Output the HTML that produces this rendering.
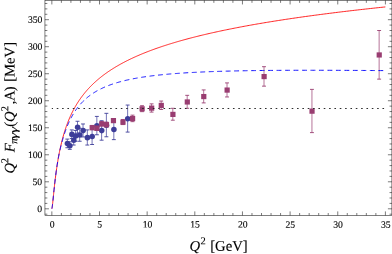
<!DOCTYPE html><html><head><meta charset="utf-8"><style>.ls{font-family:"Liberation Serif",serif;text-rendering:geometricPrecision}html,body{margin:0;padding:0;background:#fff;width:392px;height:254px;overflow:hidden}</style></head><body><svg width="392" height="254" viewBox="0 0 392 254" style="position:absolute;left:0;top:0;will-change:transform">
<rect x="0" y="0" width="392" height="254" fill="#fff"/>
<path d="M67.31,139.10 V147.75" stroke="#3D3D99" stroke-width="0.72" fill="none"/><path d="M65.36,139.10 H69.26 M65.36,147.75 H69.26" stroke="#3D3D99" stroke-width="0.9" fill="none"/>
<path d="M69.79,141.80 V149.37" stroke="#3D3D99" stroke-width="0.72" fill="none"/><path d="M67.84,141.80 H71.74 M67.84,149.37 H71.74" stroke="#3D3D99" stroke-width="0.9" fill="none"/>
<path d="M71.79,129.92 V138.56" stroke="#3D3D99" stroke-width="0.72" fill="none"/><path d="M69.84,129.92 H73.74 M69.84,138.56 H73.74" stroke="#3D3D99" stroke-width="0.9" fill="none"/>
<path d="M73.69,135.32 V145.04" stroke="#3D3D99" stroke-width="0.72" fill="none"/><path d="M71.74,135.32 H75.64 M71.74,145.04 H75.64" stroke="#3D3D99" stroke-width="0.9" fill="none"/>
<path d="M75.60,130.46 V141.26" stroke="#3D3D99" stroke-width="0.72" fill="none"/><path d="M73.65,130.46 H77.55 M73.65,141.26 H77.55" stroke="#3D3D99" stroke-width="0.9" fill="none"/>
<path d="M77.51,121.27 V133.16" stroke="#3D3D99" stroke-width="0.72" fill="none"/><path d="M75.56,121.27 H79.46 M75.56,133.16 H79.46" stroke="#3D3D99" stroke-width="0.9" fill="none"/>
<path d="M79.70,128.30 V141.26" stroke="#3D3D99" stroke-width="0.72" fill="none"/><path d="M77.75,128.30 H81.65 M77.75,141.26 H81.65" stroke="#3D3D99" stroke-width="0.9" fill="none"/>
<path d="M83.03,123.97 V136.94" stroke="#3D3D99" stroke-width="0.72" fill="none"/><path d="M81.08,123.97 H84.98 M81.08,136.94 H84.98" stroke="#3D3D99" stroke-width="0.9" fill="none"/>
<path d="M87.32,129.92 V145.04" stroke="#3D3D99" stroke-width="0.72" fill="none"/><path d="M85.37,129.92 H89.27 M85.37,145.04 H89.27" stroke="#3D3D99" stroke-width="0.9" fill="none"/>
<path d="M92.09,128.30 V144.50" stroke="#3D3D99" stroke-width="0.72" fill="none"/><path d="M90.14,128.30 H94.04 M90.14,144.50 H94.04" stroke="#3D3D99" stroke-width="0.9" fill="none"/>
<path d="M96.85,116.41 V134.78" stroke="#3D3D99" stroke-width="0.72" fill="none"/><path d="M94.90,116.41 H98.80 M94.90,134.78 H98.80" stroke="#3D3D99" stroke-width="0.9" fill="none"/>
<path d="M101.62,120.73 V140.18" stroke="#3D3D99" stroke-width="0.72" fill="none"/><path d="M99.67,120.73 H103.57 M99.67,140.18 H103.57" stroke="#3D3D99" stroke-width="0.9" fill="none"/>
<path d="M106.38,113.33 V136.78" stroke="#3D3D99" stroke-width="0.72" fill="none"/><path d="M104.43,113.33 H108.33 M104.43,136.78 H108.33" stroke="#3D3D99" stroke-width="0.9" fill="none"/>
<path d="M113.82,119.11 V139.64" stroke="#3D3D99" stroke-width="0.72" fill="none"/><path d="M111.87,119.11 H115.77 M111.87,139.64 H115.77" stroke="#3D3D99" stroke-width="0.9" fill="none"/>
<path d="M127.63,105.06 V132.08" stroke="#3D3D99" stroke-width="0.72" fill="none"/><path d="M125.68,105.06 H129.58 M125.68,132.08 H129.58" stroke="#3D3D99" stroke-width="0.9" fill="none"/>
<circle cx="67.41" cy="143.57" r="2.78" fill="#3D3D99"/>
<circle cx="69.89" cy="145.73" r="2.78" fill="#3D3D99"/>
<circle cx="71.89" cy="134.39" r="2.78" fill="#3D3D99"/>
<circle cx="73.79" cy="140.33" r="2.78" fill="#3D3D99"/>
<circle cx="75.70" cy="136.01" r="2.78" fill="#3D3D99"/>
<circle cx="77.61" cy="127.36" r="2.78" fill="#3D3D99"/>
<circle cx="79.80" cy="134.93" r="2.78" fill="#3D3D99"/>
<circle cx="83.13" cy="130.61" r="2.78" fill="#3D3D99"/>
<circle cx="87.42" cy="137.63" r="2.78" fill="#3D3D99"/>
<circle cx="92.19" cy="136.55" r="2.78" fill="#3D3D99"/>
<circle cx="96.95" cy="125.74" r="2.78" fill="#3D3D99"/>
<circle cx="101.72" cy="130.61" r="2.78" fill="#3D3D99"/>
<circle cx="106.48" cy="125.20" r="2.78" fill="#3D3D99"/>
<circle cx="113.92" cy="129.53" r="2.78" fill="#3D3D99"/>
<circle cx="127.73" cy="118.72" r="2.78" fill="#3D3D99"/>
<path d="M92.09,125.43 V129.65" stroke="#993D71" stroke-width="0.72" fill="none"/><path d="M90.14,125.43 H94.04 M90.14,129.65 H94.04" stroke="#993D71" stroke-width="0.9" fill="none"/>
<path d="M96.85,126.03 V130.46" stroke="#993D71" stroke-width="0.72" fill="none"/><path d="M94.90,126.03 H98.80 M94.90,130.46 H98.80" stroke="#993D71" stroke-width="0.9" fill="none"/>
<path d="M101.62,121.65 V125.86" stroke="#993D71" stroke-width="0.72" fill="none"/><path d="M99.67,121.65 H103.57 M99.67,125.86 H103.57" stroke="#993D71" stroke-width="0.9" fill="none"/>
<path d="M106.38,122.08 V126.94" stroke="#993D71" stroke-width="0.72" fill="none"/><path d="M104.43,122.08 H108.33 M104.43,126.94 H108.33" stroke="#993D71" stroke-width="0.9" fill="none"/>
<path d="M113.34,118.52 V122.41" stroke="#993D71" stroke-width="0.72" fill="none"/><path d="M111.39,118.52 H115.29 M111.39,122.41 H115.29" stroke="#993D71" stroke-width="0.9" fill="none"/>
<path d="M122.87,119.49 V124.57" stroke="#993D71" stroke-width="0.72" fill="none"/><path d="M120.92,119.49 H124.82 M120.92,124.57 H124.82" stroke="#993D71" stroke-width="0.9" fill="none"/>
<path d="M132.49,115.17 V121.65" stroke="#993D71" stroke-width="0.72" fill="none"/><path d="M130.54,115.17 H134.44 M130.54,121.65 H134.44" stroke="#993D71" stroke-width="0.9" fill="none"/>
<path d="M142.02,105.71 V111.65" stroke="#993D71" stroke-width="0.72" fill="none"/><path d="M140.07,105.71 H143.97 M140.07,111.65 H143.97" stroke="#993D71" stroke-width="0.9" fill="none"/>
<path d="M151.55,103.87 V112.09" stroke="#993D71" stroke-width="0.72" fill="none"/><path d="M149.60,103.87 H153.50 M149.60,112.09 H153.50" stroke="#993D71" stroke-width="0.9" fill="none"/>
<path d="M161.18,101.06 V109.49" stroke="#993D71" stroke-width="0.72" fill="none"/><path d="M159.23,101.06 H163.13 M159.23,109.49 H163.13" stroke="#993D71" stroke-width="0.9" fill="none"/>
<path d="M172.81,108.30 V120.19" stroke="#993D71" stroke-width="0.72" fill="none"/><path d="M170.86,108.30 H174.76 M170.86,120.19 H174.76" stroke="#993D71" stroke-width="0.9" fill="none"/>
<path d="M187.20,95.34 V108.30" stroke="#993D71" stroke-width="0.72" fill="none"/><path d="M185.25,95.34 H189.15 M185.25,108.30 H189.15" stroke="#993D71" stroke-width="0.9" fill="none"/>
<path d="M203.68,89.93 V102.90" stroke="#993D71" stroke-width="0.72" fill="none"/><path d="M201.73,89.93 H205.63 M201.73,102.90 H205.63" stroke="#993D71" stroke-width="0.9" fill="none"/>
<path d="M227.03,82.91 V96.96" stroke="#993D71" stroke-width="0.72" fill="none"/><path d="M225.08,82.91 H228.98 M225.08,96.96 H228.98" stroke="#993D71" stroke-width="0.9" fill="none"/>
<path d="M264.01,66.70 V86.15" stroke="#993D71" stroke-width="0.72" fill="none"/><path d="M262.06,66.70 H265.96 M262.06,86.15 H265.96" stroke="#993D71" stroke-width="0.9" fill="none"/>
<path d="M311.94,89.39 V132.62" stroke="#993D71" stroke-width="0.72" fill="none"/><path d="M309.99,89.39 H313.89 M309.99,132.62 H313.89" stroke="#993D71" stroke-width="0.9" fill="none"/>
<path d="M379.13,30.50 V79.13" stroke="#993D71" stroke-width="0.72" fill="none"/><path d="M377.18,30.50 H381.08 M377.18,79.13 H381.08" stroke="#993D71" stroke-width="0.9" fill="none"/>
<rect x="89.59" y="125.09" width="5.20" height="5.20" fill="#993D71"/>
<rect x="94.35" y="125.79" width="5.20" height="5.20" fill="#993D71"/>
<rect x="99.12" y="121.31" width="5.20" height="5.20" fill="#993D71"/>
<rect x="103.88" y="122.06" width="5.20" height="5.20" fill="#993D71"/>
<rect x="110.84" y="118.01" width="5.20" height="5.20" fill="#993D71"/>
<rect x="120.37" y="119.58" width="5.20" height="5.20" fill="#993D71"/>
<rect x="129.99" y="115.96" width="5.20" height="5.20" fill="#993D71"/>
<rect x="139.52" y="106.23" width="5.20" height="5.20" fill="#993D71"/>
<rect x="149.05" y="105.53" width="5.20" height="5.20" fill="#993D71"/>
<rect x="158.68" y="102.83" width="5.20" height="5.20" fill="#993D71"/>
<rect x="170.31" y="111.80" width="5.20" height="5.20" fill="#993D71"/>
<rect x="184.70" y="99.37" width="5.20" height="5.20" fill="#993D71"/>
<rect x="201.18" y="93.97" width="5.20" height="5.20" fill="#993D71"/>
<rect x="224.53" y="87.48" width="5.20" height="5.20" fill="#993D71"/>
<rect x="261.51" y="73.98" width="5.20" height="5.20" fill="#993D71"/>
<rect x="309.44" y="108.56" width="5.20" height="5.20" fill="#993D71"/>
<rect x="376.63" y="52.36" width="5.20" height="5.20" fill="#993D71"/>
<path d="M51.80,208.75 L51.80,208.75 L51.81,208.75 L51.82,208.75 L51.83,208.73 L51.85,208.71 L51.88,208.68 L51.90,208.62 L51.93,208.53 L51.97,208.41 L52.01,208.25 L52.05,208.04 L52.10,207.79 L52.15,207.48 L52.21,207.11 L52.27,206.68 L52.34,206.19 L52.41,205.64 L52.48,205.02 L52.56,204.34 L52.64,203.60 L52.72,202.80 L52.81,201.94 L52.91,201.03 L53.01,200.06 L53.11,199.04 L53.22,197.98 L53.33,196.87 L53.44,195.72 L53.56,194.53 L53.69,193.31 L53.81,192.06 L53.95,190.78 L54.08,189.48 L54.22,188.15 L54.37,186.81 L54.52,185.45 L54.67,184.07 L54.83,182.69 L54.99,181.29 L55.15,179.89 L55.32,178.49 L55.50,177.08 L55.67,175.67 L55.86,174.26 L56.04,172.85 L56.23,171.44 L56.43,170.04 L56.63,168.64 L56.83,167.25 L57.04,165.87 L57.25,164.50 L57.47,163.13 L57.69,161.77 L57.91,160.42 L58.14,159.09 L58.37,157.76 L58.61,156.45 L58.85,155.14 L59.09,153.85 L59.34,152.57 L59.60,151.31 L59.85,150.05 L60.12,148.81 L60.38,147.58 L60.65,146.36 L60.93,145.16 L61.21,143.97 L61.49,142.79 L61.78,141.63 L62.07,140.47 L62.36,139.33 L62.66,138.21 L62.97,137.09 L63.27,135.99 L63.59,134.90 L63.90,133.82 L64.22,132.76 L64.55,131.71 L64.88,130.67 L65.21,129.64 L65.55,128.62 L65.89,127.61 L66.23,126.62 L66.58,125.63 L66.94,124.66 L67.30,123.70 L67.66,122.75 L68.02,121.81 L68.40,120.88 L68.77,119.96 L69.15,119.05 L69.53,118.15 L69.92,117.26 L70.31,116.38 L70.71,115.51 L71.11,114.65 L71.51,113.80 L71.92,112.95 L72.33,112.12 L72.75,111.29 L73.17,110.48 L73.60,109.67 L74.03,108.87 L74.46,108.08 L74.90,107.30 L75.34,106.52 L75.79,105.75 L76.24,105.00 L76.69,104.24 L77.15,103.50 L77.61,102.76 L78.08,102.03 L78.55,101.31 L79.03,100.59 L79.51,99.89 L79.99,99.18 L80.48,98.49 L80.97,97.80 L81.47,97.12 L81.97,96.44 L82.48,95.77 L82.98,95.11 L83.50,94.45 L84.02,93.80 L84.54,93.16 L85.06,92.52 L85.59,91.88 L86.13,91.26 L86.67,90.63 L87.21,90.02 L87.75,89.40 L88.31,88.80 L88.86,88.20 L89.42,87.60 L89.98,87.01 L90.55,86.42 L91.12,85.84 L91.70,85.27 L92.28,84.69 L92.86,84.13 L93.45,83.56 L94.05,83.01 L94.64,82.45 L95.25,81.90 L95.85,81.36 L96.46,80.82 L97.07,80.28 L97.69,79.75 L98.31,79.22 L98.94,78.70 L99.57,78.18 L100.21,77.66 L100.85,77.15 L101.49,76.64 L102.14,76.14 L102.79,75.64 L103.44,75.14 L104.10,74.65 L104.77,74.16 L105.44,73.67 L106.11,73.19 L106.79,72.71 L107.47,72.24 L108.15,71.76 L108.84,71.29 L109.53,70.83 L110.23,70.37 L110.93,69.91 L111.64,69.45 L112.35,69.00 L113.06,68.55 L113.78,68.10 L114.51,67.66 L115.23,67.21 L115.96,66.78 L116.70,66.34 L117.44,65.91 L118.18,65.48 L118.93,65.05 L119.68,64.63 L120.44,64.20 L121.20,63.79 L121.96,63.37 L122.73,62.96 L123.51,62.54 L124.28,62.14 L125.07,61.73 L125.85,61.33 L126.64,60.92 L127.43,60.53 L128.23,60.13 L129.04,59.74 L129.84,59.34 L130.65,58.95 L131.47,58.57 L132.29,58.18 L133.11,57.80 L133.94,57.42 L134.77,57.04 L135.61,56.67 L136.45,56.29 L137.29,55.92 L138.14,55.55 L138.99,55.18 L139.85,54.82 L140.71,54.45 L141.58,54.09 L142.44,53.73 L143.32,53.37 L144.20,53.02 L145.08,52.66 L145.96,52.31 L146.85,51.96 L147.75,51.61 L148.65,51.27 L149.55,50.92 L150.46,50.58 L151.37,50.24 L152.29,49.90 L153.21,49.56 L154.13,49.23 L155.06,48.89 L155.99,48.56 L156.93,48.23 L157.87,47.90 L158.81,47.58 L159.76,47.25 L160.71,46.93 L161.67,46.60 L162.63,46.28 L163.60,45.96 L164.57,45.65 L165.54,45.33 L166.52,45.02 L167.50,44.70 L168.49,44.39 L169.48,44.08 L170.48,43.77 L171.48,43.47 L172.48,43.16 L173.49,42.86 L174.50,42.55 L175.52,42.25 L176.54,41.95 L177.56,41.65 L178.59,41.36 L179.62,41.06 L180.66,40.76 L181.70,40.47 L182.75,40.18 L183.80,39.89 L184.85,39.60 L185.91,39.31 L186.97,39.02 L188.04,38.74 L189.11,38.45 L190.18,38.17 L191.26,37.89 L192.34,37.61 L193.43,37.33 L194.52,37.05 L195.62,36.77 L196.72,36.50 L197.82,36.22 L198.93,35.95 L200.04,35.68 L201.16,35.41 L202.28,35.14 L203.41,34.87 L204.54,34.60 L205.67,34.33 L206.81,34.07 L207.95,33.80 L209.10,33.54 L210.25,33.28 L211.40,33.01 L212.56,32.75 L213.72,32.49 L214.89,32.24 L216.06,31.98 L217.24,31.72 L218.41,31.47 L219.60,31.21 L220.79,30.96 L221.98,30.71 L223.17,30.46 L224.38,30.20 L225.58,29.96 L226.79,29.71 L228.00,29.46 L229.22,29.21 L230.44,28.97 L231.67,28.72 L232.90,28.48 L234.13,28.24 L235.37,27.99 L236.61,27.75 L237.86,27.51 L239.11,27.27 L240.36,27.03 L241.62,26.80 L242.89,26.56 L244.15,26.32 L245.43,26.09 L246.70,25.86 L247.98,25.62 L249.27,25.39 L250.55,25.16 L251.85,24.93 L253.14,24.70 L254.45,24.47 L255.75,24.24 L257.06,24.01 L258.37,23.78 L259.69,23.56 L261.01,23.33 L262.34,23.11 L263.67,22.89 L265.00,22.66 L266.34,22.44 L267.69,22.22 L269.03,22.00 L270.38,21.78 L271.74,21.56 L273.10,21.34 L274.46,21.12 L275.83,20.91 L277.20,20.69 L278.58,20.47 L279.96,20.26 L281.35,20.05 L282.74,19.83 L284.13,19.62 L285.53,19.41 L286.93,19.20 L288.33,18.99 L289.74,18.78 L291.16,18.57 L292.58,18.36 L294.00,18.15 L295.43,17.94 L296.86,17.74 L298.29,17.53 L299.73,17.33 L301.18,17.12 L302.62,16.92 L304.07,16.71 L305.53,16.51 L306.99,16.31 L308.46,16.11 L309.92,15.91 L311.40,15.71 L312.87,15.51 L314.36,15.31 L315.84,15.11 L317.33,14.91 L318.82,14.71 L320.32,14.52 L321.83,14.32 L323.33,14.13 L324.84,13.93 L326.36,13.74 L327.88,13.54 L329.40,13.35 L330.93,13.16 L332.46,12.97 L333.99,12.77 L335.53,12.58 L337.08,12.39 L338.63,12.20 L340.18,12.01 L341.74,11.82 L343.30,11.64 L344.86,11.45 L346.43,11.26 L348.00,11.08 L349.58,10.89 L351.16,10.70 L352.75,10.52 L354.34,10.34 L355.93,10.15 L357.53,9.97 L359.14,9.79 L360.74,9.60 L362.35,9.42 L363.97,9.24 L365.59,9.06 L367.21,8.88 L368.84,8.70 L370.47,8.52 L372.11,8.34 L373.75,8.16 L375.39,7.98 L377.04,7.81 L378.70,7.63 L380.35,7.45 L382.01,7.28 L383.68,7.10 L385.35,6.93" fill="none" stroke="#ff0000" stroke-width="0.86"/>
<path d="M51.80,208.60 L51.80,208.60 L51.81,208.60 L51.82,208.60 L51.83,208.58 L51.85,208.56 L51.88,208.53 L51.90,208.47 L51.93,208.38 L51.97,208.26 L52.01,208.10 L52.05,207.89 L52.10,207.64 L52.15,207.33 L52.21,206.96 L52.27,206.53 L52.34,206.04 L52.41,205.49 L52.48,204.87 L52.56,204.19 L52.64,203.45 L52.72,202.65 L52.81,201.79 L52.91,200.88 L53.01,199.91 L53.11,198.89 L53.22,197.83 L53.33,196.72 L53.44,195.57 L53.56,194.38 L53.69,193.16 L53.81,191.91 L53.95,190.63 L54.08,189.33 L54.22,188.00 L54.37,186.66 L54.52,185.30 L54.67,183.92 L54.83,182.54 L54.99,181.14 L55.15,179.74 L55.32,178.34 L55.50,176.93 L55.67,175.52 L55.86,174.10 L56.04,172.68 L56.23,171.26 L56.43,169.84 L56.63,168.43 L56.83,167.02 L57.04,165.64 L57.25,164.26 L57.47,162.91 L57.69,161.58 L57.91,160.26 L58.14,158.97 L58.37,157.70 L58.61,156.45 L58.85,155.23 L59.09,154.03 L59.34,152.85 L59.60,151.69 L59.85,150.54 L60.12,149.41 L60.38,148.30 L60.65,147.19 L60.93,146.09 L61.21,144.99 L61.49,143.89 L61.78,142.79 L62.07,141.71 L62.36,140.64 L62.66,139.58 L62.97,138.54 L63.27,137.51 L63.59,136.48 L63.90,135.47 L64.22,134.48 L64.55,133.49 L64.88,132.52 L65.21,131.56 L65.55,130.61 L65.89,129.68 L66.23,128.75 L66.58,127.84 L66.94,126.94 L67.30,126.06 L67.66,125.18 L68.02,124.32 L68.40,123.47 L68.77,122.63 L69.15,121.80 L69.53,120.99 L69.92,120.19 L70.31,119.39 L70.71,118.61 L71.11,117.84 L71.51,117.09 L71.92,116.34 L72.33,115.60 L72.75,114.88 L73.17,114.17 L73.60,113.46 L74.03,112.77 L74.46,112.09 L74.90,111.42 L75.34,110.75 L75.79,110.10 L76.24,109.46 L76.69,108.83 L77.15,108.21 L77.61,107.59 L78.08,106.99 L78.55,106.40 L79.03,105.81 L79.51,105.23 L79.99,104.67 L80.48,104.11 L80.97,103.56 L81.47,103.02 L81.97,102.49 L82.48,101.96 L82.98,101.44 L83.50,100.94 L84.02,100.44 L84.54,99.94 L85.06,99.46 L85.59,98.98 L86.13,98.51 L86.67,98.05 L87.21,97.59 L87.75,97.14 L88.31,96.70 L88.86,96.27 L89.42,95.84 L89.98,95.42 L90.55,95.00 L91.12,94.59 L91.70,94.19 L92.28,93.80 L92.86,93.41 L93.45,93.02 L94.05,92.65 L94.64,92.27 L95.25,91.91 L95.85,91.55 L96.46,91.19 L97.07,90.85 L97.69,90.50 L98.31,90.16 L98.94,89.83 L99.57,89.50 L100.21,89.18 L100.85,88.86 L101.49,88.55 L102.14,88.24 L102.79,87.94 L103.44,87.64 L104.10,87.34 L104.77,87.05 L105.44,86.77 L106.11,86.49 L106.79,86.21 L107.47,85.94 L108.15,85.67 L108.84,85.41 L109.53,85.15 L110.23,84.89 L110.93,84.64 L111.64,84.39 L112.35,84.15 L113.06,83.91 L113.78,83.67 L114.51,83.44 L115.23,83.21 L115.96,82.98 L116.70,82.76 L117.44,82.54 L118.18,82.32 L118.93,82.11 L119.68,81.90 L120.44,81.69 L121.20,81.49 L121.96,81.29 L122.73,81.09 L123.51,80.90 L124.28,80.71 L125.07,80.52 L125.85,80.34 L126.64,80.15 L127.43,79.97 L128.23,79.80 L129.04,79.62 L129.84,79.45 L130.65,79.28 L131.47,79.12 L132.29,78.95 L133.11,78.79 L133.94,78.63 L134.77,78.48 L135.61,78.32 L136.45,78.17 L137.29,78.02 L138.14,77.87 L138.99,77.73 L139.85,77.59 L140.71,77.45 L141.58,77.31 L142.44,77.17 L143.32,77.04 L144.20,76.91 L145.08,76.78 L145.96,76.65 L146.85,76.52 L147.75,76.40 L148.65,76.28 L149.55,76.16 L150.46,76.04 L151.37,75.92 L152.29,75.81 L153.21,75.70 L154.13,75.59 L155.06,75.48 L155.99,75.37 L156.93,75.26 L157.87,75.16 L158.81,75.06 L159.76,74.96 L160.71,74.86 L161.67,74.76 L162.63,74.66 L163.60,74.57 L164.57,74.48 L165.54,74.38 L166.52,74.29 L167.50,74.21 L168.49,74.12 L169.48,74.03 L170.48,73.95 L171.48,73.87 L172.48,73.78 L173.49,73.70 L174.50,73.63 L175.52,73.55 L176.54,73.47 L177.56,73.40 L178.59,73.32 L179.62,73.25 L180.66,73.18 L181.70,73.11 L182.75,73.04 L183.80,72.97 L184.85,72.91 L185.91,72.84 L186.97,72.78 L188.04,72.71 L189.11,72.65 L190.18,72.59 L191.26,72.53 L192.34,72.47 L193.43,72.41 L194.52,72.36 L195.62,72.30 L196.72,72.25 L197.82,72.19 L198.93,72.14 L200.04,72.09 L201.16,72.04 L202.28,71.99 L203.41,71.94 L204.54,71.89 L205.67,71.84 L206.81,71.80 L207.95,71.75 L209.10,71.71 L210.25,71.66 L211.40,71.62 L212.56,71.58 L213.72,71.54 L214.89,71.50 L216.06,71.46 L217.24,71.42 L218.41,71.38 L219.60,71.35 L220.79,71.31 L221.98,71.27 L223.17,71.24 L224.38,71.21 L225.58,71.17 L226.79,71.14 L228.00,71.11 L229.22,71.08 L230.44,71.05 L231.67,71.02 L232.90,70.99 L234.13,70.96 L235.37,70.93 L236.61,70.91 L237.86,70.88 L239.11,70.85 L240.36,70.83 L241.62,70.81 L242.89,70.78 L244.15,70.76 L245.43,70.74 L246.70,70.71 L247.98,70.69 L249.27,70.67 L250.55,70.65 L251.85,70.63 L253.14,70.61 L254.45,70.60 L255.75,70.58 L257.06,70.56 L258.37,70.54 L259.69,70.53 L261.01,70.51 L262.34,70.50 L263.67,70.48 L265.00,70.47 L266.34,70.46 L267.69,70.44 L269.03,70.43 L270.38,70.42 L271.74,70.41 L273.10,70.40 L274.46,70.39 L275.83,70.38 L277.20,70.37 L278.58,70.36 L279.96,70.35 L281.35,70.34 L282.74,70.33 L284.13,70.33 L285.53,70.32 L286.93,70.31 L288.33,70.31 L289.74,70.30 L291.16,70.30 L292.58,70.29 L294.00,70.29 L295.43,70.28 L296.86,70.28 L298.29,70.28 L299.73,70.27 L301.18,70.27 L302.62,70.27 L304.07,70.27 L305.53,70.27 L306.99,70.27 L308.46,70.26 L309.92,70.26 L311.40,70.27 L312.87,70.27 L314.36,70.27 L315.84,70.27 L317.33,70.27 L318.82,70.27 L320.32,70.27 L321.83,70.28 L323.33,70.28 L324.84,70.28 L326.36,70.29 L327.88,70.29 L329.40,70.29 L330.93,70.30 L332.46,70.30 L333.99,70.31 L335.53,70.31 L337.08,70.32 L338.63,70.33 L340.18,70.33 L341.74,70.34 L343.30,70.35 L344.86,70.35 L346.43,70.36 L348.00,70.37 L349.58,70.38 L351.16,70.39 L352.75,70.39 L354.34,70.40 L355.93,70.41 L357.53,70.42 L359.14,70.43 L360.74,70.44 L362.35,70.45 L363.97,70.46 L365.59,70.47 L367.21,70.48 L368.84,70.49 L370.47,70.51 L372.11,70.52 L373.75,70.53 L375.39,70.54 L377.04,70.55 L378.70,70.57 L380.35,70.58 L382.01,70.59 L383.68,70.61 L385.35,70.62" fill="none" stroke="#0000ff" stroke-width="0.92" stroke-dasharray="4.9 3.58" stroke-dashoffset="0.35"/>
<path d="M51.80,108.50 H385.35" fill="none" stroke="#222" stroke-width="0.95" stroke-dasharray="1.6 3.74" stroke-dashoffset="0.4"/>
<path d="M51.85,215.40 v-4.00 M51.85,0.45 v4.00 M61.38,215.40 v-2.40 M61.38,0.45 v2.40 M70.91,215.40 v-2.40 M70.91,0.45 v2.40 M80.44,215.40 v-2.40 M80.44,0.45 v2.40 M89.97,215.40 v-2.40 M89.97,0.45 v2.40 M99.50,215.40 v-4.00 M99.50,0.45 v4.00 M109.03,215.40 v-2.40 M109.03,0.45 v2.40 M118.56,215.40 v-2.40 M118.56,0.45 v2.40 M128.09,215.40 v-2.40 M128.09,0.45 v2.40 M137.62,215.40 v-2.40 M137.62,0.45 v2.40 M147.15,215.40 v-4.00 M147.15,0.45 v4.00 M156.68,215.40 v-2.40 M156.68,0.45 v2.40 M166.21,215.40 v-2.40 M166.21,0.45 v2.40 M175.74,215.40 v-2.40 M175.74,0.45 v2.40 M185.27,215.40 v-2.40 M185.27,0.45 v2.40 M194.80,215.40 v-4.00 M194.80,0.45 v4.00 M204.33,215.40 v-2.40 M204.33,0.45 v2.40 M213.86,215.40 v-2.40 M213.86,0.45 v2.40 M223.39,215.40 v-2.40 M223.39,0.45 v2.40 M232.92,215.40 v-2.40 M232.92,0.45 v2.40 M242.45,215.40 v-4.00 M242.45,0.45 v4.00 M251.98,215.40 v-2.40 M251.98,0.45 v2.40 M261.51,215.40 v-2.40 M261.51,0.45 v2.40 M271.04,215.40 v-2.40 M271.04,0.45 v2.40 M280.57,215.40 v-2.40 M280.57,0.45 v2.40 M290.10,215.40 v-4.00 M290.10,0.45 v4.00 M299.63,215.40 v-2.40 M299.63,0.45 v2.40 M309.16,215.40 v-2.40 M309.16,0.45 v2.40 M318.69,215.40 v-2.40 M318.69,0.45 v2.40 M328.22,215.40 v-2.40 M328.22,0.45 v2.40 M337.75,215.40 v-4.00 M337.75,0.45 v4.00 M347.28,215.40 v-2.40 M347.28,0.45 v2.40 M356.81,215.40 v-2.40 M356.81,0.45 v2.40 M366.34,215.40 v-2.40 M366.34,0.45 v2.40 M375.87,215.40 v-2.40 M375.87,0.45 v2.40 M385.40,215.40 v-4.00 M385.40,0.45 v4.00 M44.95,214.20 h2.40 M391.90,214.20 h-2.40 M44.95,208.80 h4.00 M391.90,208.80 h-4.00 M44.95,203.40 h2.40 M391.90,203.40 h-2.40 M44.95,197.99 h2.40 M391.90,197.99 h-2.40 M44.95,192.59 h2.40 M391.90,192.59 h-2.40 M44.95,187.19 h2.40 M391.90,187.19 h-2.40 M44.95,181.79 h4.00 M391.90,181.79 h-4.00 M44.95,176.38 h2.40 M391.90,176.38 h-2.40 M44.95,170.98 h2.40 M391.90,170.98 h-2.40 M44.95,165.58 h2.40 M391.90,165.58 h-2.40 M44.95,160.17 h2.40 M391.90,160.17 h-2.40 M44.95,154.77 h4.00 M391.90,154.77 h-4.00 M44.95,149.37 h2.40 M391.90,149.37 h-2.40 M44.95,143.96 h2.40 M391.90,143.96 h-2.40 M44.95,138.56 h2.40 M391.90,138.56 h-2.40 M44.95,133.16 h2.40 M391.90,133.16 h-2.40 M44.95,127.76 h4.00 M391.90,127.76 h-4.00 M44.95,122.35 h2.40 M391.90,122.35 h-2.40 M44.95,116.95 h2.40 M391.90,116.95 h-2.40 M44.95,111.55 h2.40 M391.90,111.55 h-2.40 M44.95,106.14 h2.40 M391.90,106.14 h-2.40 M44.95,100.74 h4.00 M391.90,100.74 h-4.00 M44.95,95.34 h2.40 M391.90,95.34 h-2.40 M44.95,89.93 h2.40 M391.90,89.93 h-2.40 M44.95,84.53 h2.40 M391.90,84.53 h-2.40 M44.95,79.13 h2.40 M391.90,79.13 h-2.40 M44.95,73.73 h4.00 M391.90,73.73 h-4.00 M44.95,68.32 h2.40 M391.90,68.32 h-2.40 M44.95,62.92 h2.40 M391.90,62.92 h-2.40 M44.95,57.52 h2.40 M391.90,57.52 h-2.40 M44.95,52.11 h2.40 M391.90,52.11 h-2.40 M44.95,46.71 h4.00 M391.90,46.71 h-4.00 M44.95,41.31 h2.40 M391.90,41.31 h-2.40 M44.95,35.90 h2.40 M391.90,35.90 h-2.40 M44.95,30.50 h2.40 M391.90,30.50 h-2.40 M44.95,25.10 h2.40 M391.90,25.10 h-2.40 M44.95,19.70 h4.00 M391.90,19.70 h-4.00 M44.95,14.29 h2.40 M391.90,14.29 h-2.40 M44.95,8.89 h2.40 M391.90,8.89 h-2.40 M44.95,3.49 h2.40 M391.90,3.49 h-2.40" stroke="#000" stroke-width="0.52" fill="none"/>
<rect x="44.95" y="0.45" width="346.95" height="214.95" fill="none" stroke="#000" stroke-width="0.5"/>
<g class="ls" font-size="9.7" fill="#000" stroke="#000" stroke-width="0.12" letter-spacing="-0.1" transform="rotate(0.03 200 127)">
<text x="52.15" y="227.60" text-anchor="middle">0</text>
<text x="99.80" y="227.60" text-anchor="middle">5</text>
<text x="147.45" y="227.60" text-anchor="middle">10</text>
<text x="195.10" y="227.60" text-anchor="middle">15</text>
<text x="242.75" y="227.60" text-anchor="middle">20</text>
<text x="290.40" y="227.60" text-anchor="middle">25</text>
<text x="338.05" y="227.60" text-anchor="middle">30</text>
<text x="385.70" y="227.60" text-anchor="middle">35</text>
<text x="42.15" y="212.05" text-anchor="end">0</text>
<text x="42.15" y="185.04" text-anchor="end">50</text>
<text x="42.15" y="158.02" text-anchor="end">100</text>
<text x="42.15" y="131.00" text-anchor="end">150</text>
<text x="42.15" y="103.99" text-anchor="end">200</text>
<text x="42.15" y="76.98" text-anchor="end">250</text>
<text x="42.15" y="49.96" text-anchor="end">300</text>
<text x="42.15" y="22.95" text-anchor="end">350</text>
</g>
<g class="ls" fill="#000" stroke="#000" stroke-width="0.12" transform="rotate(0.03 200 127)">
<text font-size="14.7" x="189.49" y="250.70" font-style="italic">Q</text>
<text font-size="10.5" x="200.54" y="244.30">2</text>
<text font-size="14.7" x="210.21" y="250.70">[GeV]</text>
</g>
<g class="ls" fill="#000" stroke="#000" stroke-width="0.12" transform="rotate(-90.03)">
<text font-size="14.7" x="-173.61" y="14.40" font-style="italic">Q</text>
<text font-size="10.5" x="-163.36" y="8.20">2</text>
<text font-size="14.7" x="-152.33" y="14.40" font-style="italic">F</text>
<text font-size="11" x="-143.75" y="17.10" font-style="italic">π</text>
<text font-size="11" x="-139.10" y="17.10" font-style="italic" textLength="12.4" lengthAdjust="spacingAndGlyphs">γγ</text>
<text font-size="14.7" x="-126.75" y="14.40">(</text>
<text font-size="14.7" x="-122.11" y="14.40" font-style="italic">Q</text>
<text font-size="10.5" x="-111.36" y="8.20">2</text>
<text font-size="14.7" x="-104.26" y="14.40">,</text>
<text font-size="14.7" x="-100.95" y="14.40">A</text>
<text font-size="14.7" x="-91.37" y="14.40">)</text>
<text font-size="14.7" x="-81.89" y="14.40">[MeV]</text>
</g>
</svg></body></html>
